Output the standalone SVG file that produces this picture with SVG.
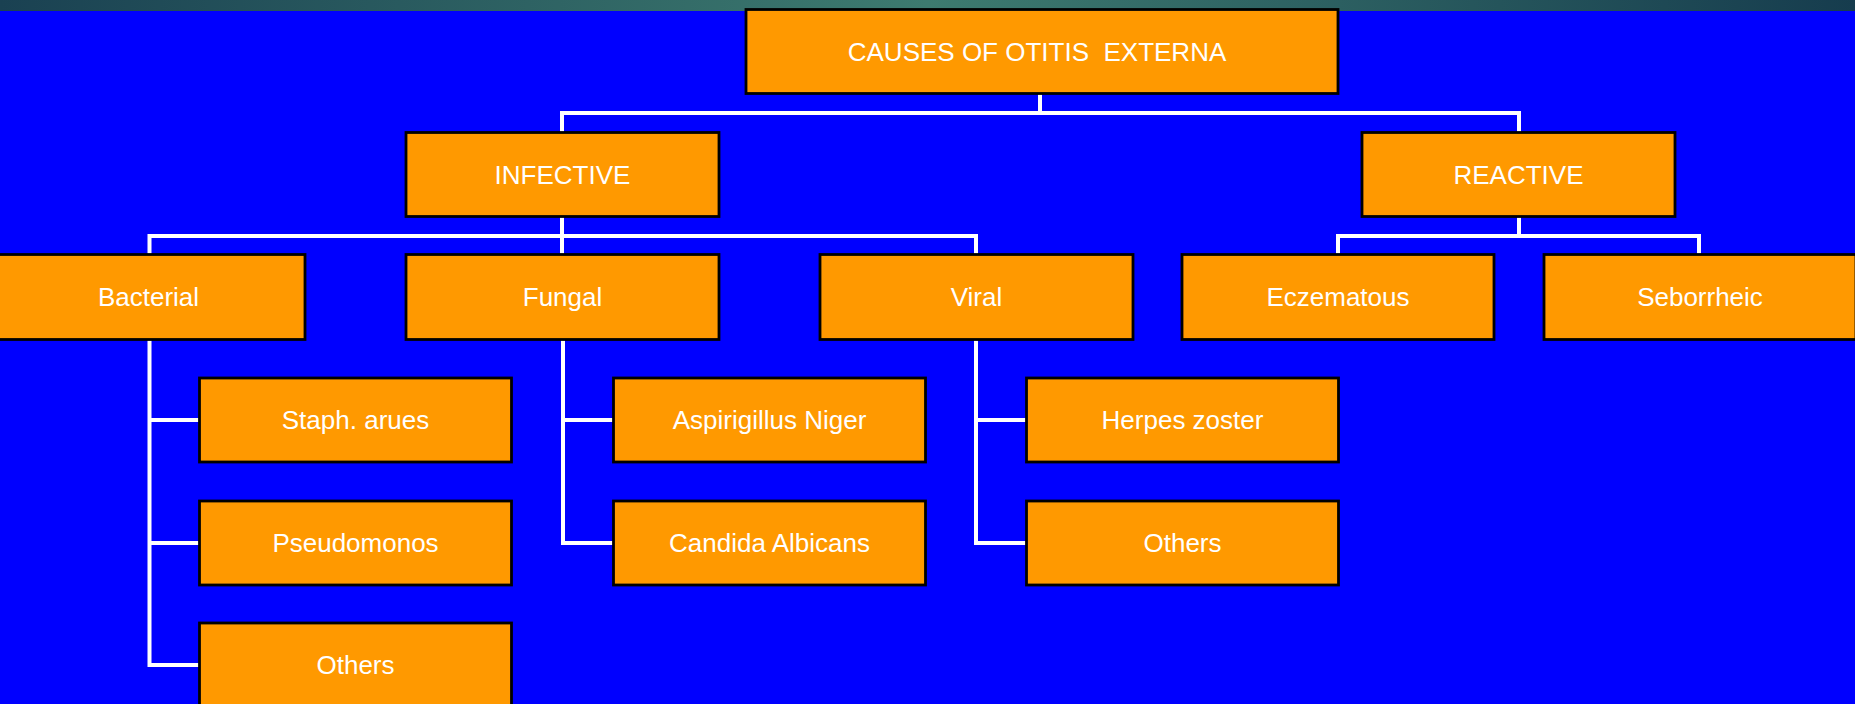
<svg xmlns="http://www.w3.org/2000/svg" width="1855" height="704" viewBox="0 0 1855 704">
<defs>
<linearGradient id="strip" x1="0" y1="0" x2="1" y2="0">
<stop offset="0" stop-color="#1a4152"/>
<stop offset="0.5" stop-color="#3d7b70"/>
<stop offset="1" stop-color="#163c4e"/>
</linearGradient>
</defs>
<style>
.box{fill:#FF9900;stroke:#000;stroke-width:2.8}
.lbl{fill:#fff;font-family:"Liberation Sans",Arial,sans-serif;font-size:26px;text-anchor:middle}
.con{fill:none;stroke:#fff;stroke-width:4;stroke-linejoin:miter}
</style>
<rect x="0" y="0" width="1855" height="704" fill="#0000FF"/>
<rect x="0" y="0" width="1855" height="11" fill="url(#strip)"/>
<g id="connectors" class="con">
<path d="M1040 94 V113 M562 132 V113 H1519 V132"/>
<path d="M562 217 V254 M149.5 254 V236 H976 V254"/>
<path d="M1519 217 V236 M1338 254 V236 H1699 V254"/>
<path d="M149.5 340 V665 H199 M149.5 420 H199 M149.5 543 H199"/>
<path d="M563 340 V543 H613 M563 420 H613"/>
<path d="M976 340 V543 H1026 M976 420 H1026"/>
</g>
<g id="root"><rect class="box" x="746" y="9.5" width="592" height="84"/><text class="lbl" x="1037" y="61" xml:space="preserve">CAUSES OF OTITIS  EXTERNA</text></g>
<g id="infective"><rect class="box" x="406" y="132.5" width="313" height="84"/><text class="lbl" x="562.5" y="184">INFECTIVE</text></g>
<g id="reactive"><rect class="box" x="1362" y="132.5" width="313" height="84"/><text class="lbl" x="1518.5" y="184">REACTIVE</text></g>
<g id="bacterial"><rect class="box" x="-8" y="254.5" width="313" height="85"/><text class="lbl" x="148.5" y="306">Bacterial</text></g>
<g id="fungal"><rect class="box" x="406" y="254.5" width="313" height="85"/><text class="lbl" x="562.5" y="306">Fungal</text></g>
<g id="viral"><rect class="box" x="820" y="254.5" width="313" height="85"/><text class="lbl" x="976.5" y="306">Viral</text></g>
<g id="eczematous"><rect class="box" x="1182" y="254.5" width="312" height="85"/><text class="lbl" x="1338" y="306">Eczematous</text></g>
<g id="seborrheic"><rect class="box" x="1544" y="254.5" width="312" height="85"/><text class="lbl" x="1700" y="306">Seborrheic</text></g>
<g id="staph"><rect class="box" x="199.5" y="378" width="312" height="84"/><text class="lbl" x="355.5" y="429">Staph. arues</text></g>
<g id="pseudomonos"><rect class="box" x="199.5" y="501" width="312" height="84"/><text class="lbl" x="355.5" y="552">Pseudomonos</text></g>
<g id="others-bacterial"><rect class="box" x="199.5" y="623" width="312" height="84"/><text class="lbl" x="355.5" y="674">Others</text></g>
<g id="aspirigillus"><rect class="box" x="613.5" y="378" width="312" height="84"/><text class="lbl" x="769.5" y="429">Aspirigillus Niger</text></g>
<g id="candida"><rect class="box" x="613.5" y="501" width="312" height="84"/><text class="lbl" x="769.5" y="552">Candida Albicans</text></g>
<g id="herpes"><rect class="box" x="1026.5" y="378" width="312" height="84"/><text class="lbl" x="1182.5" y="429">Herpes zoster</text></g>
<g id="others-viral"><rect class="box" x="1026.5" y="501" width="312" height="84"/><text class="lbl" x="1182.5" y="552">Others</text></g>
</svg>
